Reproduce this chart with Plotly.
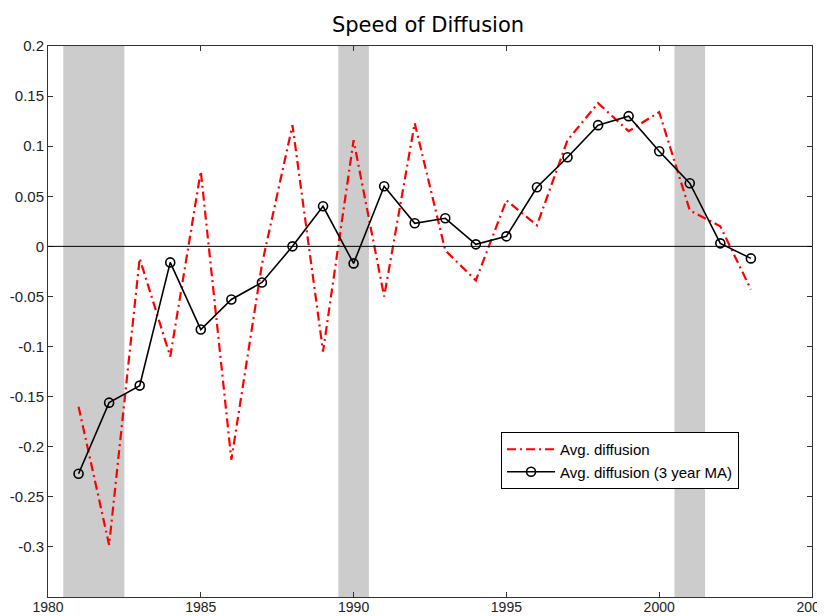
import plotly.graph_objects as go

years = list(range(1981, 2004))
avg_diffusion = [-0.160, -0.298, -0.012, -0.110, 0.075, -0.213, -0.018, 0.121, -0.105,
                 0.106, -0.050, 0.123, -0.004, -0.034, 0.046, 0.021, 0.106, 0.143,
                 0.115, 0.134, 0.036, 0.020, -0.043]
avg_diffusion_ma = [-0.227, -0.156, -0.139, -0.016, -0.083, -0.053, -0.036, 0.000, 0.040,
                    -0.017, 0.060, 0.023, 0.028, 0.002, 0.010, 0.059, 0.089, 0.121,
                    0.130, 0.095, 0.063, 0.003, -0.012]
recessions = [(1980.5, 1982.5), (1989.5, 1990.5), (2000.5, 2001.5)]
x_ticks = [1980, 1985, 1990, 1995, 2000, 2005]
y_ticks = [0.2, 0.15, 0.1, 0.05, 0, -0.05, -0.1, -0.15, -0.2, -0.25, -0.3]
y_tick_labels = ["0.2", "0.15", "0.1", "0.05", "0", "-0.05", "-0.1", "-0.15",
                 "-0.2", "-0.25", "-0.3"]

# the page body has an 8px margin, so the figure is sized to fit the window
W, H = 817, 608

fig = go.Figure()
fig.add_trace(go.Scatter(x=years, y=avg_diffusion, mode="lines", name="Avg. diffusion",
                         line=dict(color="#ff0000", width=2.2, dash="9px,4px,2px,4px")))
fig.add_trace(go.Scatter(x=years, y=avg_diffusion_ma, mode="lines+markers",
                         name="Avg. diffusion (3 year MA)",
                         line=dict(color="black", width=1.6),
                         marker=dict(symbol="circle-open", size=9, color="black",
                                     line=dict(width=1.6, color="black"))))

shapes = []
for a, b in recessions:
    shapes.append(dict(type="rect", xref="x", yref="paper", x0=a, x1=b, y0=0, y1=1,
                       fillcolor="#cccccc", line=dict(width=0), layer="below"))
shapes.append(dict(type="line", xref="x", yref="y", x0=1980, x1=2005, y0=0, y1=0,
                   line=dict(color="black", width=1), layer="above"))

axis_common = dict(showline=True, linecolor="#333333", linewidth=1, mirror="ticks",
                   ticks="inside", ticklen=5, tickcolor="#333333", showgrid=False,
                   zeroline=False, automargin=False)

fig.update_layout(
    width=W, height=H,
    margin=dict(l=40, r=13, t=38, b=19),
    paper_bgcolor="white", plot_bgcolor="white",
    title=dict(text="Speed of Diffusion", x=420 / W, xanchor="center", y=1 - 17 / H,
               yanchor="middle", font=dict(family="DejaVu Sans, Liberation Sans", size=21,
                                           color="black")),
    xaxis=dict(range=[1980, 2005], tickvals=x_ticks, ticktext=[str(v) for v in x_ticks],
               ticklabeloverflow="allow", ticklabelstandoff=-3,
               tickfont=dict(family="Liberation Sans, Arial", size=14, color="#222222"),
               **axis_common),
    yaxis=dict(range=[-0.35, 0.2], tickvals=y_ticks, ticktext=y_tick_labels,
               tickfont=dict(family="Liberation Sans, Arial", size=15, color="#222222"),
               **axis_common),
    shapes=shapes,
    showlegend=True,
    legend=dict(x=0.593, y=0.2995, xanchor="left", yanchor="top", bgcolor="white",
                bordercolor="black", borderwidth=1,
                font=dict(family="Liberation Sans, Arial", size=15, color="black"),
                tracegroupgap=0, itemwidth=48),
)

fig.write_html("out.html")
